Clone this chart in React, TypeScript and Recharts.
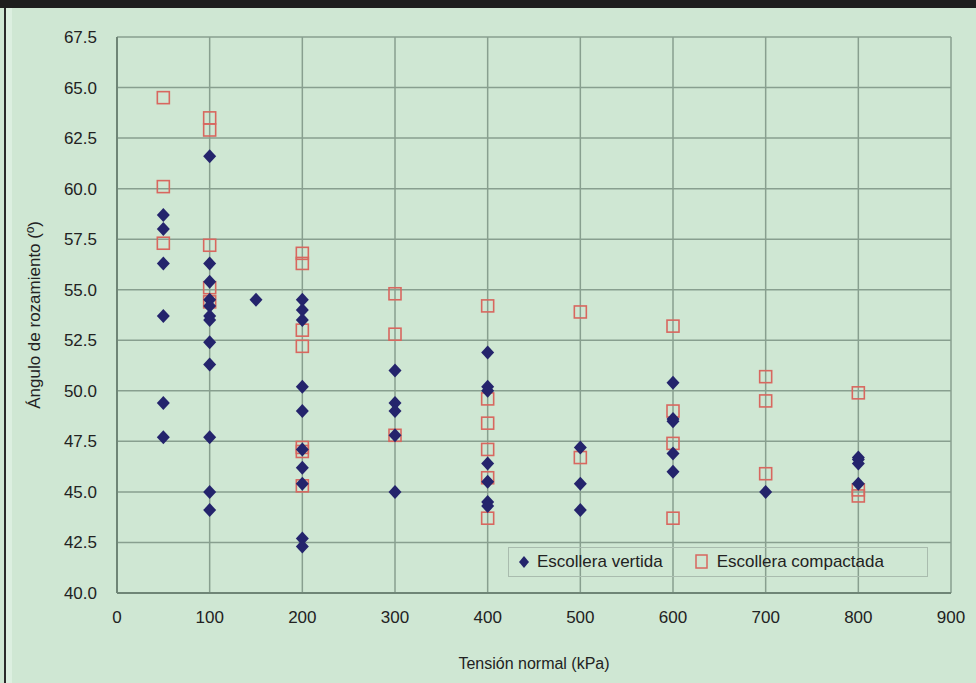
import { ScatterChart, Scatter, XAxis, YAxis, CartesianGrid } from 'recharts';

// Escollera vertida (blue diamonds)
const vertidaX = [
  50, 50, 50, 50, 50, 50,
  100, 100, 100, 100, 100, 100, 100, 100, 100, 100, 100, 100,
  150,
  200, 200, 200, 200, 200, 200, 200, 200, 200, 200,
  300, 300, 300, 300, 300,
  400, 400, 400, 400, 400, 400, 400,
  500, 500, 500,
  600, 600, 600, 600, 600,
  700,
  800, 800, 800, 800,
];
const vertidaY = [
  58.7, 58.0, 56.3, 53.7, 49.4, 47.7,
  61.6, 56.3, 55.4, 54.5, 54.2, 53.7, 53.5, 52.4, 51.3, 47.7, 45.0, 44.1,
  54.5,
  54.5, 54.0, 53.5, 50.2, 49.0, 47.1, 46.2, 45.4, 42.7, 42.3,
  51.0, 49.4, 49.0, 47.8, 45.0,
  51.9, 50.2, 50.0, 46.4, 45.5, 44.5, 44.3,
  47.2, 45.4, 44.1,
  50.4, 48.6, 48.5, 46.9, 46.0,
  45.0,
  46.7, 46.6, 46.4, 45.4,
];

// Escollera compactada (red open squares)
const compactadaX = [
  50, 50, 50,
  100, 100, 100, 100, 100,
  200, 200, 200, 200, 200, 200, 200,
  300, 300, 300,
  400, 400, 400, 400, 400, 400,
  500, 500,
  600, 600, 600, 600,
  700, 700, 700,
  800, 800, 800,
];
const compactadaY = [
  64.5, 60.1, 57.3,
  63.5, 62.9, 57.2, 55.1, 54.4,
  56.8, 56.3, 53.0, 52.2, 47.2, 47.0, 45.3,
  54.8, 52.8, 47.8,
  54.2, 49.6, 48.4, 47.1, 45.7, 43.7,
  53.9, 46.7,
  53.2, 49.0, 47.4, 43.7,
  50.7, 49.5, 45.9,
  49.9, 45.1, 44.8,
];

const xTicks = [0, 100, 200, 300, 400, 500, 600, 700, 800, 900];
const yTicks = [40, 42.5, 45, 47.5, 50, 52.5, 55, 57.5, 60, 62.5, 65, 67.5];

const vertida = vertidaX.map((x, i) => ({ x, y: vertidaY[i] }));
const compactada = compactadaX.map((x, i) => ({ x, y: compactadaY[i] }));

const FONT = '"Liberation Sans", Arial, sans-serif';
const NAVY = '#24246c';
const RED = '#d8675f';

const Diamond = (props: any) => {
  const { cx, cy } = props;
  if (cx == null || cy == null) return null;
  return <path d={`M${cx},${cy - 7}L${cx + 6.5},${cy}L${cx},${cy + 7}L${cx - 6.5},${cy}Z`} fill={NAVY} />;
};

const Square = (props: any) => {
  const { cx, cy } = props;
  if (cx == null || cy == null) return null;
  return <rect x={cx - 6} y={cy - 6} width={12} height={12} fill="none" stroke={RED} strokeWidth={1.6} />;
};

export default function App() {
  return (
    <div
      style={{
        position: 'absolute',
        left: 0,
        top: 0,
        width: 976,
        height: 683,
        background: '#cfe7d3',
        overflow: 'hidden',
      }}
    >
      <div style={{ position: 'absolute', left: 0, top: 0, width: 976, height: 8, background: '#1e1e1e' }} />
      <div style={{ position: 'absolute', left: 4, top: 8, width: 2, height: 675, background: '#2a2a2a' }} />
      <div style={{ position: 'absolute', left: 6, top: 8, width: 6, height: 675, background: '#dcefe0' }} />
      <ScatterChart width={976} height={683} margin={{ top: 37, right: 25, bottom: 0, left: 0 }}>
        <CartesianGrid stroke="#889f8f" strokeWidth={1.5} />
        <XAxis
          type="number"
          dataKey="x"
          domain={[0, 900]}
          ticks={xTicks}
          height={90}
          tickLine={false}
          axisLine={{ stroke: '#6f8576', strokeWidth: 2 }}
          tick={{ fill: '#222', fontSize: 17, fontFamily: FONT }}
          tickMargin={12}
          label={{
            value: 'Tensión normal (kPa)',
            position: 'insideBottom',
            offset: 14,
            fill: '#222',
            style: { fontSize: 16, fontFamily: FONT },
          }}
        />
        <YAxis
          type="number"
          dataKey="y"
          domain={[40, 67.5]}
          ticks={yTicks}
          width={117}
          tickLine={false}
          axisLine={{ stroke: '#6f8576', strokeWidth: 2 }}
          tick={{ fill: '#222', fontSize: 17, fontFamily: FONT }}
          tickMargin={14}
          tickFormatter={(v: number) => v.toFixed(1)}
          label={{
            value: 'Ángulo de rozamiento (º)',
            angle: -90,
            position: 'insideLeft',
            offset: 34,
            fill: '#222',
            style: { textAnchor: 'middle', fontSize: 17, fontFamily: FONT },
          }}
        />
        <Scatter name="Escollera compactada" data={compactada} shape={Square} isAnimationActive={false} />
        <Scatter name="Escollera vertida" data={vertida} shape={Diamond} isAnimationActive={false} />
      </ScatterChart>
      <div
        style={{
          position: 'absolute',
          left: 508,
          top: 547,
          width: 420,
          height: 30,
          border: '1px solid #a9bcae',
          boxSizing: 'border-box',
          display: 'flex',
          alignItems: 'center',
          fontFamily: FONT,
          fontSize: 17,
          color: '#222',
        }}
      >
        <svg width={28} height={20}>
          <path d="M15,4L20,10L15,16L10,10Z" fill={NAVY} />
        </svg>
        <span>Escollera vertida</span>
        <svg width={34} height={20} style={{ marginLeft: 22 }}>
          <rect x={11} y={3} width={11} height={13} fill="none" stroke={RED} strokeWidth={1.5} />
        </svg>
        <span style={{ marginLeft: -2 }}>Escollera compactada</span>
      </div>
    </div>
  );
}
